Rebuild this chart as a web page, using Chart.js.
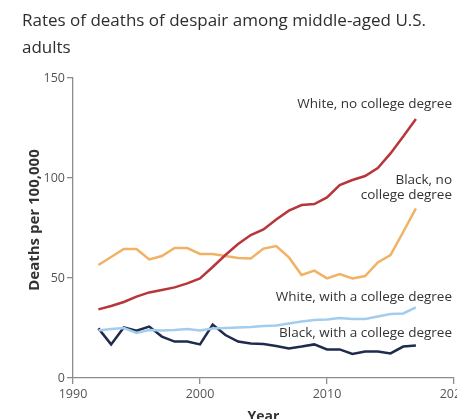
<!DOCTYPE html>
<html>
<head>
<meta charset="utf-8">
<script src="https://cdn.jsdelivr.net/npm/chart.js@4"></script>
<style>
  html, body { margin: 0; padding: 0; background: #fff; }
  #wrap { width: 457px; height: 419px; position: relative; }
</style>
</head>
<body>
<div id="wrap"><canvas id="c" width="457" height="419"></canvas></div>
<script>
// Years 1992-2017, deaths per 100,000
const years = [1992,1993,1994,1995,1996,1997,1998,1999,2000,2001,2002,2003,2004,
               2005,2006,2007,2008,2009,2010,2011,2012,2013,2014,2015,2016,2017];

const whiteNoCollege = [34.3,36,38,40.7,42.8,44,45.3,47.3,49.8,55.5,61.5,67,71.5,
                        74.3,79.3,83.7,86.5,87,90.3,96.5,99,101,105,112.3,120.7,129.5];
const blackNoCollege = [56.5,60.5,64.5,64.5,59.3,61,65,65,62,62,61,60,59.7,
                        64.7,66,60.3,51.5,53.7,49.8,52,49.8,51,57.8,61.5,73,84.8];
const whiteCollege   = [23.7,24.5,25,22.5,24,23.8,24,24.5,23.8,24.8,25,25.3,25.5,
                        26,26.3,27.3,28.3,29,29.3,30,29.5,29.5,30.7,32,32.3,35.3];
const blackCollege   = [24.8,16.8,25.3,23.7,25.7,20.7,18.2,18.2,16.8,26.7,21.5,18.2,17.3,
                        17,16,14.8,15.7,16.8,14.3,14.3,12,13.2,13.2,12.3,15.7,16.2];

const yTicks = [0, 50, 100, 150];
const xTicks = [1990, 2000, 2010, 2020];

const titleLines = ['Rates of deaths of despair among middle-aged U.S.', 'adults'];

// Series labels placed near the line ends: [text lines, y value of first line]
const seriesLabels = [
  { lines: ['White, no college degree'], y: 137 },
  { lines: ['Black, no', 'college degree'], y: 99 },
  { lines: ['White, with a college degree'], y: 40.5 },
  { lines: ['Black, with a college degree'], y: 22.5 }
];

const FONT = '"Open Sans", "DejaVu Sans", sans-serif';
const AXIS = '#8c8c8c';

const toXY = arr => arr.map((v, i) => ({ x: years[i], y: v }));

const decorations = {
  id: 'decorations',
  afterDraw(chart) {
    const ctx = chart.ctx;
    const xs = chart.scales.x, ys = chart.scales.y;
    ctx.save();
    // heading
    ctx.fillStyle = '#2e2e2e';
    ctx.font = '500 17px ' + FONT;
    ctx.textAlign = 'left';
    ctx.textBaseline = 'middle';
    titleLines.forEach((t, i) => ctx.fillText(t, 22, 21 + i * 27));

    // y-axis title
    ctx.save();
    ctx.translate(35, 220);
    ctx.rotate(-Math.PI / 2);
    ctx.fillStyle = '#333';
    ctx.font = 'bold 15px ' + FONT;
    ctx.textAlign = 'center';
    ctx.fillText('Deaths per 100,000', 0, 0);
    ctx.restore();

    // series labels
    ctx.font = '13.5px ' + FONT;
    ctx.textAlign = 'right';
    ctx.fillStyle = '#333';
    const xr = xs.right - 2;
    seriesLabels.forEach(l => {
      const y0 = ys.getPixelForValue(l.y);
      l.lines.forEach((t, i) => ctx.fillText(t, xr, y0 + i * 15.5));
    });
    ctx.restore();
  }
};

new Chart(document.getElementById('c'), {
  type: 'line',
  data: {
    datasets: [
      { label: 'White, no college degree', data: toXY(whiteNoCollege), borderColor: '#b8363a' },
      { label: 'Black, no college degree', data: toXY(blackNoCollege), borderColor: '#f1b264' },
      { label: 'White, with a college degree', data: toXY(whiteCollege), borderColor: '#a3cdee' },
      { label: 'Black, with a college degree', data: toXY(blackCollege), borderColor: '#1f2b4d' }
    ]
  },
  options: {
    responsive: false,
    animation: false,
    layout: { padding: { top: 78, right: 3, left: 0, bottom: 0 } },
    elements: {
      line: { borderWidth: 2.5, tension: 0 },
      point: { radius: 0 }
    },
    plugins: { legend: { display: false }, tooltip: { enabled: false } },
    scales: {
      x: {
        type: 'linear',
        min: 1990, max: 2020,
        afterBuildTicks: s => { s.ticks = xTicks.map(v => ({ value: v })); },
        afterFit: s => { s.height = 41; s.paddingLeft = 0; s.paddingRight = 0; },
        border: { color: AXIS, width: 1.3 },
        grid: { drawOnChartArea: false, color: AXIS, tickLength: 6, lineWidth: 1.3 },
        ticks: { color: '#555', font: { family: FONT, size: 12.5 }, padding: 3, maxRotation: 0,
                 callback: v => String(v) },
        title: { display: true, text: 'Year', color: '#333',
                 font: { family: FONT, size: 14, weight: 'bold' }, padding: { top: 4, bottom: -6 } }
      },
      y: {
        min: 0, max: 150,
        afterBuildTicks: s => { s.ticks = yTicks.map(v => ({ value: v })); },
        afterFit: s => { s.width = 73; },
        border: { color: AXIS, width: 1.3 },
        grid: { drawOnChartArea: false, color: AXIS, tickLength: 6, lineWidth: 1.3 },
        ticks: { color: '#555', font: { family: FONT, size: 12.5 }, padding: 2 }
      }
    }
  },
  plugins: [decorations]
});
</script>
</body>
</html>
